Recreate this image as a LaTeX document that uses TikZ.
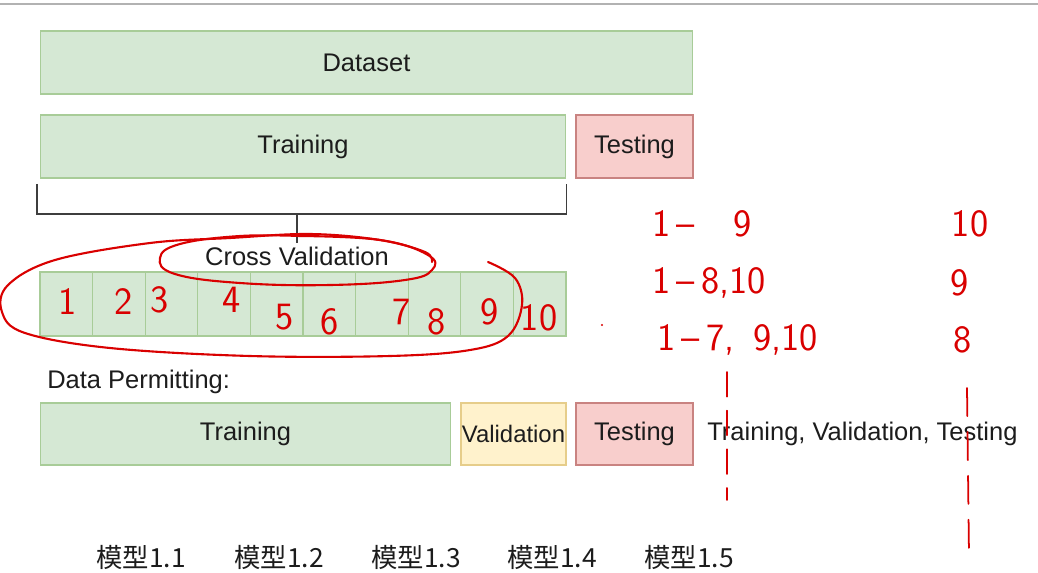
\documentclass[tikz,border=0pt]{standalone}
\usepackage{fontspec}
\setmainfont{Liberation Sans}
\newfontfamily\cjk{Noto Sans CJK SC}
\usepackage{xcolor}
\usepackage{tikz}
\usetikzlibrary{positioning,calc}

\definecolor{grfill}{HTML}{D5E8D4}
\definecolor{grline}{HTML}{A8CC98}
\definecolor{rdfill}{HTML}{F8CECC}
\definecolor{rdline}{HTML}{C98381}
\definecolor{ylfill}{HTML}{FFF2CC}
\definecolor{ylline}{HTML}{E6CD8A}
\definecolor{ink}{HTML}{D90000}
\definecolor{txt}{HTML}{1C1C1C}

\begin{document}
\begin{tikzpicture}[
    x=0.02cm, y=-0.02cm,
    txtf/.style={font=\fontsize{14.5}{16}\selectfont, text=txt},
    part/.style={rectangle, draw=grline, fill=grfill, line width=0.6pt,
                 minimum height=1.26cm, inner sep=0pt, txtf},
    test/.style={part, draw=rdline, fill=rdfill},
    valid/.style={part, draw=ylline, fill=ylfill, font=\fontsize{13.6}{16}\selectfont},
    fold/.style={part, minimum width=1.052cm, minimum height=1.28cm},
    brk/.style={draw=txt!85, line width=1.1pt},
    hand/.style={text=ink, font=\sffamily\fontsize{22}{24}\selectfont, inner sep=0pt},
    pen/.style={draw=ink, line width=1.2pt, line cap=round, line join=round},
  ]
  \useasboundingbox (0,0) rectangle (1038,572);

  % window edge
  \draw[gray!60, line width=1.5pt] (0,4) -- (1038,4);

  % Full dataset and first split
  \node[part, minimum width=13.06cm] (data) at (366.5,62.5) {Dataset};
  \node[part, minimum width=10.52cm] (trainA) at (303,146.5) {Training};
  \node[test, minimum width=2.34cm] (testA) at (634.5,146.5) {Testing};

  % Bracket down to cross validation
  \node[txtf, inner sep=2pt] (cv) at (297,256) {Cross Validation};
  \coordinate (bl) at ([xshift=-1.7pt, yshift=-3pt]trainA.south west);
  \coordinate (br) at ([yshift=-3pt]trainA.south east);
  \draw[brk] (bl) -- ++(0,30) coordinate (blb) -| (br);
  \draw[brk] (blb -| cv.north) -- (cv.north);

  % Folds
  \foreach \i in {1,...,10}
    \node[fold] (k\i) at ({40+52.6*(\i-0.5)},304) {};

  % Data permitting split
  \node[txtf, anchor=west, inner sep=0pt] (dp) at (47,382) {Data Permitting:};
  \node[part, minimum width=8.22cm, minimum height=1.24cm] (trainB) at (245.5,434) {Training};
  \node[valid, minimum width=2.1cm, minimum height=1.24cm] (valB) at (513.5,434) {Validation};
  \node[test, minimum width=2.34cm, minimum height=1.24cm] (testB) at (634.5,434) {Testing};
  \node[txtf, anchor=west, inner sep=0pt] (tvt) at (707,434) {Training, Validation, Testing};

  % Models
  \foreach \m/\x in {1/141,2/279,3/416,4/552,5/689}
    \node[txtf, font=\cjk\fontsize{15}{17}\selectfont] (m\m) at (\x,557) {模型1.\m};

  % Handwritten notes
  \draw[pen] plot[smooth, tension=0.6] coordinates {
    (488,262) (515,278) (522,305) (508,336) (470,350) (390,356) (250,356)
    (110,348) (25,333) (2,312) (8,285) (55,260) (150,243) (230,238) (310,234)
    (380,240) (425,252) (432,262)};
  \draw[pen] plot[smooth, tension=0.7] coordinates {
    (300,236) (380,240) (428,255) (432,270) (405,280) (330,285) (240,283)
    (175,274) (160,258) (180,244) (240,236) (300,236)};

  \foreach \i/\x/\y in {1/68/302,2/124/302,3/160/300,4/232/300,5/285/317,
                        6/330/322,7/402/312,8/437/322,9/490/312,10/539/318}
    \node[hand] (n\i) at (\x,\y) {\i};

  \node[hand, anchor=west] (r1) at (652,224) {1\,–\quad 9};
  \node[hand, anchor=west] (r2) at (652,283) {1\,–\,8,10};
  \node[hand, anchor=west] (r3) at (657,340) {1\,–\,7,\, 9,10};
  \node[hand] (s1) at (970,224) {10};
  \node[hand] (s2) at (960,283) {9};
  \node[hand] (s3) at (963,340) {8};
  \fill[ink] (602,325) circle (1.2);

  \coordinate (d1a) at (727,372);
  \coordinate (d1b) at (727,500);
  \coordinate (d2a) at (967,388);
  \coordinate (d2b) at (969,555);
  \draw[pen, line width=1pt, dash pattern=on 14pt off 8pt] (d1a) -- (d1b);
  \draw[pen, line width=1pt, dash pattern=on 16pt off 9pt] (d2a) -- (d2b);
\end{tikzpicture}
\end{document}
